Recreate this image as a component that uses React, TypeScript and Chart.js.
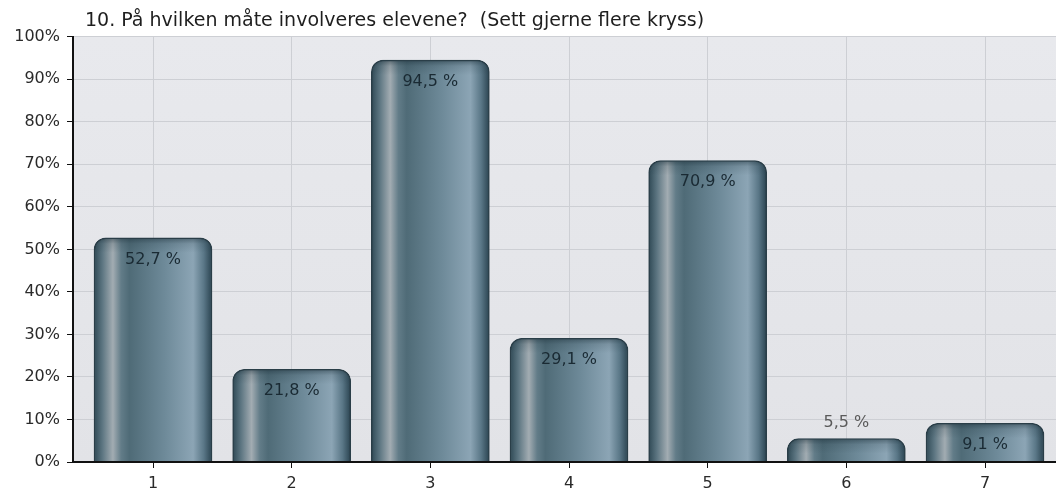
import { useEffect, useRef } from 'react';
import { Chart, registerables } from 'chart.js';

Chart.register(...registerables);

const TITLE = '10. På hvilken måte involveres elevene?  (Sett gjerne flere kryss)';
const categories = ['1', '2', '3', '4', '5', '6', '7'];
const values = [52.7, 21.8, 94.5, 29.1, 70.9, 5.5, 9.1];
const yMin = 0;
const yMax = 100;
const yStep = 10;

const FONT = '"DejaVu Sans", "Liberation Sans", Arial, sans-serif';
const BAR_W = 118;
const RADIUS = 12;

const fmt = (v: number) => v.toFixed(1).replace('.', ',') + ' %';

const bgPlugin = {
  id: 'bgPlugin',
  beforeDraw(chart: any) {
    const { ctx, chartArea, width, height } = chart;
    ctx.save();
    ctx.fillStyle = '#ffffff';
    ctx.fillRect(0, 0, width, height);
    if (chartArea) {
      const g = ctx.createLinearGradient(0, chartArea.top, 0, chartArea.bottom);
      g.addColorStop(0, '#e8e9ed');
      g.addColorStop(1, '#e2e3e7');
      ctx.fillStyle = g;
      ctx.fillRect(chartArea.left, chartArea.top, chartArea.right - chartArea.left, chartArea.bottom - chartArea.top);
    }
    ctx.restore();
  },
};

const overlayPlugin = {
  id: 'overlayPlugin',
  afterDatasetsDraw(chart: any) {
    const { ctx, chartArea } = chart;
    const meta = chart.getDatasetMeta(0);
    ctx.save();
    // subtle top bevel on each bar
    meta.data.forEach((el: any) => {
      const l = el.x - el.width / 2 + 1;
      const r = el.x + el.width / 2 - 1;
      const t = el.y + 1;
      const b = Math.min(el.base, t + 14);
      ctx.save();
      ctx.beginPath();
      ctx.roundRect(l, t, r - l, el.base - t, [RADIUS - 1, RADIUS - 1, 0, 0]);
      ctx.clip();
      const g = ctx.createLinearGradient(0, t, 0, b);
      g.addColorStop(0, 'rgba(25,45,55,0.45)');
      g.addColorStop(0.35, 'rgba(25,45,55,0.15)');
      g.addColorStop(1, 'rgba(25,45,55,0)');
      ctx.fillStyle = g;
      ctx.fillRect(l, t, r - l, b - t);
      ctx.restore();
    });
    ctx.strokeStyle = '#111111';
    ctx.lineWidth = 2;
    ctx.beginPath();
    ctx.moveTo(chartArea.left - 1, chartArea.bottom);
    ctx.lineTo(chartArea.right, chartArea.bottom);
    ctx.stroke();
    ctx.font = `16px ${FONT}`;
    ctx.textAlign = 'center';
    ctx.textBaseline = 'alphabetic';
    meta.data.forEach((el: any, i: number) => {
      const h = el.base - el.y;
      const text = fmt(values[i]);
      if (h > 30) {
        ctx.fillStyle = '#1a2a33';
        ctx.fillText(text, el.x, el.y + 26);
      } else {
        ctx.fillStyle = '#5a5a5a';
        ctx.fillText(text, el.x, el.y - 12);
      }
    });
    ctx.restore();
  },
  afterDraw(chart: any) {
    const { ctx } = chart;
    ctx.save();
    ctx.font = `19px ${FONT}`;
    ctx.fillStyle = '#1e1e1e';
    ctx.textAlign = 'left';
    ctx.textBaseline = 'alphabetic';
    ctx.fillText(TITLE, 85, 26);
    ctx.restore();
  },
};

function barGradient(c: any) {
  const chart = c.chart;
  if (c.type !== 'data' || !chart.scales || !chart.scales.x) return '#5a7585';
  const cx = chart.scales.x.getPixelForValue(c.dataIndex + 1);
  if (!Number.isFinite(cx)) return '#5a7585';
  const x0 = cx - BAR_W / 2;
  const g = chart.ctx.createLinearGradient(x0, 0, x0 + BAR_W, 0);
  g.addColorStop(0, '#2f4955');
  g.addColorStop(0.07, '#5c7581');
  g.addColorStop(0.16, '#a2acb2');
  g.addColorStop(0.23, '#627c88');
  g.addColorStop(0.3, '#4f6b77');
  g.addColorStop(0.6, '#6e8a99');
  g.addColorStop(0.84, '#8ca5b5');
  g.addColorStop(0.93, '#5a7787');
  g.addColorStop(1, '#2a4350');
  return g;
}

export default function App() {
  const ref = useRef<HTMLCanvasElement | null>(null);
  useEffect(() => {
    if (!ref.current) return;
    const chart = new Chart(ref.current, {
      type: 'bar',
      data: {
        datasets: [
          {
            data: values.map((v, i) => ({ x: i + 1, y: v })),
            backgroundColor: barGradient,
            borderColor: '#2a3e48',
            borderWidth: 1.5,
            borderRadius: { topLeft: RADIUS, topRight: RADIUS, bottomLeft: 0, bottomRight: 0 },
            borderSkipped: 'bottom',
            barThickness: BAR_W,
          } as any,
        ],
      },
      options: {
        animation: false,
        responsive: true,
        maintainAspectRatio: false,
        layout: { padding: { top: 36.7, left: 0, right: 0, bottom: 0 } },
        plugins: {
          legend: { display: false },
          tooltip: { enabled: false },
          title: { display: false },
        },
        scales: {
          x: {
            type: 'linear',
            offset: false,
            min: 0.423,
            max: 7.512,
            afterBuildTicks: (s: any) => {
              s.ticks = categories.map((_, i) => ({ value: i + 1 }));
            },
            afterFit: (s: any) => {
              s.height = 30;
            },
            ticks: {
              autoSkip: false,
              maxRotation: 0,
              padding: 6,
              color: '#2a2a2a',
              font: { family: FONT, size: 16 },
              callback: (v: any) => categories[Math.round(v) - 1],
            },
            grid: {
              offset: false,
              color: '#cdcfd4',
              lineWidth: 1,
              tickColor: '#111111',
              tickLength: 6,
            },
            border: { color: '#111111', width: 2 },
          },
          y: {
            min: yMin,
            max: yMax,
            afterFit: (s: any) => {
              s.width = 73;
            },
            ticks: {
              stepSize: yStep,
              padding: 7,
              color: '#2a2a2a',
              font: { family: FONT, size: 16 },
              callback: (v: any) => v + '%',
            },
            grid: {
              color: '#cdcfd4',
              lineWidth: 1,
              tickColor: '#111111',
              tickLength: 6,
            },
            border: { color: '#111111', width: 2 },
          },
        },
      } as any,
      plugins: [bgPlugin, overlayPlugin],
    });
    return () => chart.destroy();
  }, []);
  return (
    <div style={{ position: 'fixed', left: 0, top: 0, width: 1056, height: 492 }}>
      <canvas ref={ref} />
    </div>
  );
}
